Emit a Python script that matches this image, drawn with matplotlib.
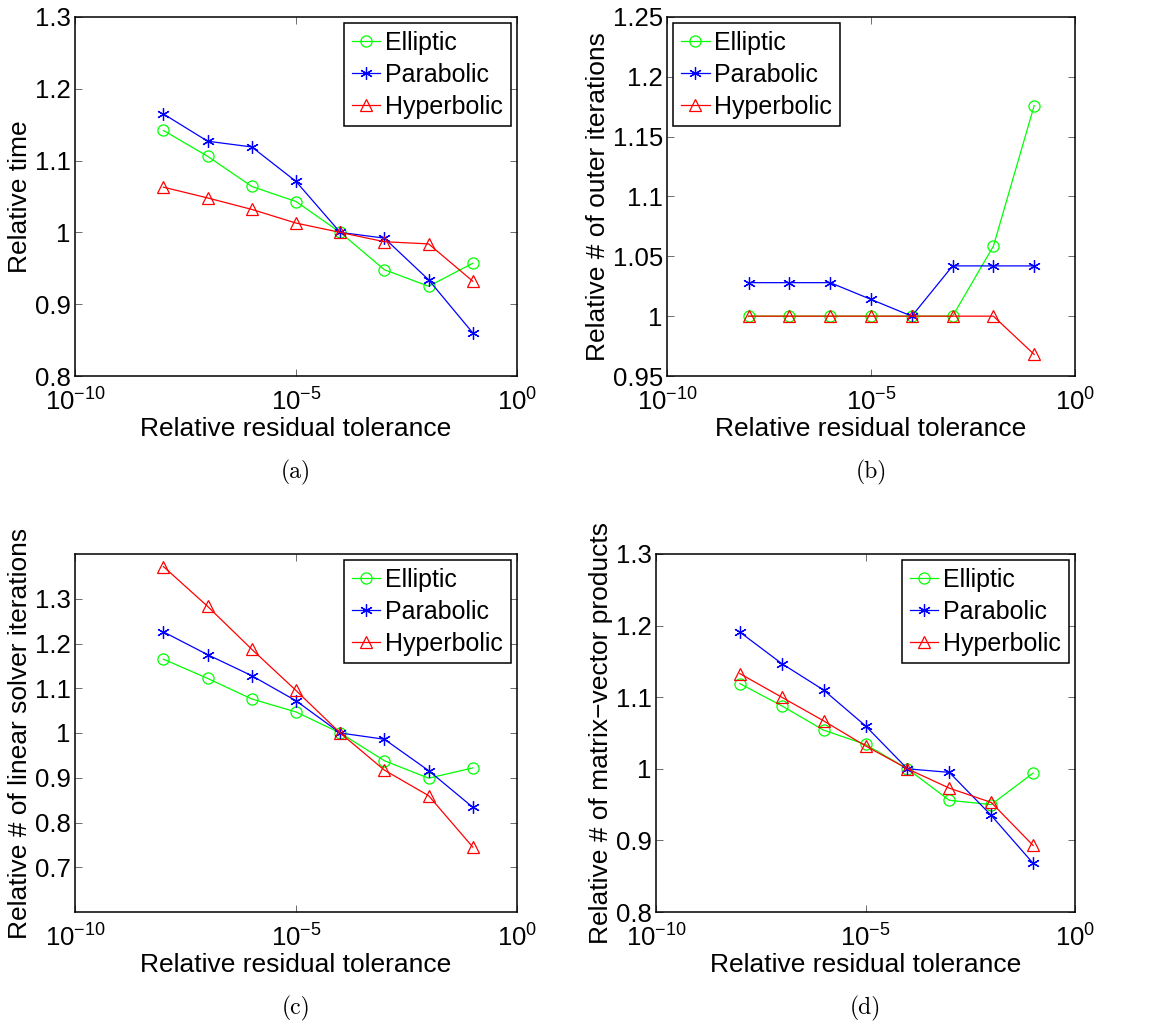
'''
Relative cost of the three test problems versus the relative residual tolerance
'''
import matplotlib
matplotlib.use('Agg')
import matplotlib.pyplot as plt
from matplotlib.ticker import FixedLocator, FuncFormatter, NullLocator

plt.rcParams['font.family'] = ['Liberation Sans', 'DejaVu Sans']
plt.rcParams['mathtext.fontset'] = 'custom'
plt.rcParams['mathtext.rm'] = 'Liberation Sans'
plt.rcParams['mathtext.it'] = 'Liberation Sans:italic'
plt.rcParams['mathtext.bf'] = 'Liberation Sans:bold'

# tolerances used in the runs
tolerance = [1e-8, 1e-7, 1e-6, 1e-5, 1e-4, 1e-3, 1e-2, 1e-1]

# (a) relative time
time_elliptic = [1.142, 1.106, 1.064, 1.043, 1.0, 0.948, 0.925, 0.957]
time_parabolic = [1.165, 1.127, 1.119, 1.071, 1.0, 0.992, 0.934, 0.860]
time_hyperbolic = [1.063, 1.048, 1.032, 1.013, 1.0, 0.987, 0.984, 0.932]

# (b) relative number of outer iterations
outer_elliptic = [1.0, 1.0, 1.0, 1.0, 1.0, 1.0, 1.0585, 1.176]
outer_parabolic = [1.028, 1.028, 1.028, 1.014, 1.0, 1.042, 1.042, 1.042]
outer_hyperbolic = [1.0, 1.0, 1.0, 1.0, 1.0, 1.0, 1.0, 0.968]

# (c) relative number of linear solver iterations
linear_elliptic = [1.165, 1.122, 1.076, 1.047, 1.0, 0.938, 0.899, 0.922]
linear_parabolic = [1.226, 1.175, 1.128, 1.072, 1.0, 0.986, 0.916, 0.834]
linear_hyperbolic = [1.372, 1.283, 1.187, 1.095, 1.0, 0.917, 0.860, 0.745]

# (d) relative number of matrix-vector products
matvec_elliptic = [1.119, 1.088, 1.054, 1.034, 1.0, 0.956, 0.950, 0.994]
matvec_parabolic = [1.191, 1.147, 1.110, 1.060, 1.0, 0.995, 0.935, 0.868]
matvec_hyperbolic = [1.133, 1.100, 1.067, 1.032, 1.0, 0.973, 0.953, 0.893]

series_names = ['Elliptic', 'Parabolic', 'Hyperbolic']
x_ticks = [1e-10, 1e-5, 1e0]
x_ticklabels = ['$10^{-10}$', '$10^{-5}$', '$10^{0}$']

TICK_FS = 18.5
LABEL_FS = 19
LEGEND_FS = 18
STYLES = [
    dict(color=(0, 1, 0), marker='o', ms=8, mfc='none'),
    dict(color=(0, 0, 1), marker=(6, 2, 0), ms=9),
    dict(color=(1, 0, 0), marker='^', ms=9, mfc='none'),
]

panels = [
    # rect, data, ylabel, ylim, yticks, legend loc, caption
    ([75, 17, 517, 376], (time_elliptic, time_parabolic, time_hyperbolic),
     'Relative time', (0.8, 1.3), [0.8, 0.9, 1.0, 1.1, 1.2, 1.3], 'upper right', '(a)'),
    ([667, 17, 1075, 376], (outer_elliptic, outer_parabolic, outer_hyperbolic),
     'Relative # of outer iterations', (0.95, 1.25),
     [0.95, 1.0, 1.05, 1.1, 1.15, 1.2, 1.25], 'upper left', '(b)'),
    ([75, 554, 517, 912], (linear_elliptic, linear_parabolic, linear_hyperbolic),
     'Relative # of linear solver iterations', (0.6, 1.4),
     [0.7, 0.8, 0.9, 1.0, 1.1, 1.2, 1.3], 'upper right', '(c)'),
    ([656, 554, 1075, 912], (matvec_elliptic, matvec_parabolic, matvec_hyperbolic),
     'Relative # of matrix\u2212vector products', (0.8, 1.3),
     [0.8, 0.9, 1.0, 1.1, 1.2, 1.3], 'upper right', '(d)'),
]

W, H = 1171, 1023
fig = plt.figure(figsize=(W / 100, H / 100), dpi=100)

for (x0, y0, x1, y1), data, ylabel, ylim, yticks, loc, caption in panels:
    ax = fig.add_axes([x0 / W, 1 - y1 / H, (x1 - x0) / W, (y1 - y0) / H])
    for name, values, style in zip(series_names, data, STYLES):
        ax.plot(tolerance, values, lw=0.9, mew=0.9, label=name, **style)

    ax.set_xscale('log')
    ax.set_xlim(1e-10, 1e0)
    ax.set_ylim(*ylim)
    ax.xaxis.set_major_locator(FixedLocator(x_ticks))
    ax.xaxis.set_minor_locator(NullLocator())
    ax.set_xticklabels(x_ticklabels)
    ax.set_yticks(yticks)
    ax.yaxis.set_major_formatter(FuncFormatter(lambda v, _: f'{v:g}'))
    ax.tick_params(direction='in', length=5, width=0.6, top=True, right=True,
                   labelsize=TICK_FS, pad=3, color='#555555')
    ax.tick_params(axis='x', pad=9)
    for sp in ax.spines.values():
        sp.set_linewidth(1.1)

    ax.set_xlabel('Relative residual tolerance', fontsize=LABEL_FS, labelpad=1)
    ax.set_ylabel(ylabel, fontsize=LABEL_FS, labelpad=2)

    leg = ax.legend(loc=loc, fontsize=LEGEND_FS, fancybox=False, framealpha=1,
                    edgecolor='black', handlelength=1.15, handletextpad=0.2,
                    labelspacing=0.32, borderpad=0.3, borderaxespad=0.25)
    leg.get_frame().set_linewidth(1.1)

    fig.text((x0 + x1) / 2 / W, 1 - (y1 + 96) / H, caption, family='cmr10',
             fontsize=17, ha='center', va='center')

fig.savefig('out.png', dpi=100)
